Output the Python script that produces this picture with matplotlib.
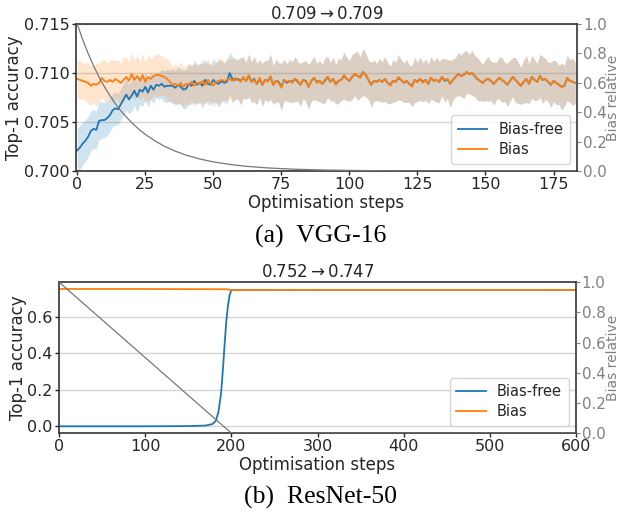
import numpy as np
import matplotlib
matplotlib.use("Agg")
import matplotlib.pyplot as plt

# ---------------- data: (a) VGG-16 ----------------
vgg_bias = [
    0.7094, 0.7093, 0.7092, 0.7091, 0.7090, 0.7087, 0.7089, 0.7088, 0.7090, 0.7095,
    0.7092, 0.7091, 0.7093, 0.7091, 0.7094, 0.7092, 0.7090, 0.7093, 0.7096, 0.7092,
    0.7099, 0.7093, 0.7097, 0.7092, 0.7098, 0.7091, 0.7096, 0.7094, 0.7097, 0.7098,
    0.7098, 0.7097, 0.7096, 0.7094, 0.7091, 0.7088, 0.7089, 0.7087, 0.7090, 0.7086,
    0.7089, 0.7088, 0.7091, 0.7087, 0.7090, 0.7089, 0.7092, 0.7088, 0.7093, 0.7090,
    0.7087, 0.7091, 0.7092, 0.7093, 0.7092, 0.7093, 0.7094, 0.7092, 0.7095, 0.7093,
    0.7091, 0.7096, 0.7092, 0.7098, 0.7091, 0.7093, 0.7089, 0.7095, 0.7088, 0.7093,
    0.7091, 0.7097, 0.7088, 0.7092, 0.7090, 0.7085, 0.7093, 0.7091, 0.7092, 0.7090,
    0.7094, 0.7092, 0.7088, 0.7093, 0.7091, 0.7086, 0.7092, 0.7095, 0.7090, 0.7092,
    0.7089, 0.7093, 0.7096, 0.7091, 0.7094, 0.7088, 0.7092, 0.7093, 0.7098, 0.7094,
    0.7092, 0.7096, 0.7099, 0.7097, 0.7095, 0.7101, 0.7098, 0.7093, 0.7088, 0.7092,
    0.7091, 0.7093, 0.7091, 0.7094, 0.7090, 0.7087, 0.7092, 0.7091, 0.7096, 0.7093,
    0.7090, 0.7092, 0.7089, 0.7086, 0.7093, 0.7091, 0.7094, 0.7090, 0.7093, 0.7089,
    0.7095, 0.7092, 0.7093, 0.7091, 0.7096, 0.7093, 0.7094, 0.7089, 0.7093, 0.7096,
    0.7099, 0.7097, 0.7098, 0.7101, 0.7099, 0.7100, 0.7097, 0.7094, 0.7092, 0.7090,
    0.7093, 0.7094, 0.7092, 0.7089, 0.7092, 0.7095, 0.7093, 0.7091, 0.7088, 0.7092,
    0.7096, 0.7093, 0.7090, 0.7087, 0.7091, 0.7094, 0.7089, 0.7096, 0.7093, 0.7091,
    0.7097, 0.7093, 0.7094, 0.7091, 0.7088, 0.7092, 0.7090, 0.7088, 0.7086, 0.7087,
    0.7095, 0.7092, 0.7091, 0.7090,
]
vgg_biasfree = [
    0.7021, 0.7024, 0.7028, 0.7031, 0.7035, 0.7041, 0.7043, 0.7042, 0.7051, 0.7052,
    0.7052, 0.7054, 0.7057, 0.7062, 0.7064, 0.7063, 0.7068, 0.7073, 0.7078, 0.7073,
    0.7077, 0.7082, 0.7076, 0.7083, 0.7081, 0.7086, 0.7080, 0.7087, 0.7083, 0.7088,
    0.7087, 0.7089, 0.7086, 0.7087, 0.7087, 0.7087, 0.7085, 0.7088, 0.7086, 0.7083,
    0.7084, 0.7089, 0.7087, 0.7092, 0.7088, 0.7090, 0.7087, 0.7093, 0.7089, 0.7088,
    0.7093, 0.7090, 0.7089, 0.7092, 0.7090, 0.7091, 0.7100, 0.7094, 0.7093, 0.7094,
    0.7092, 0.7095, 0.7092, 0.7097, 0.7091, 0.7094, 0.7089, 0.7094, 0.7088, 0.7093,
    0.7092, 0.7096, 0.7088, 0.7092, 0.7091, 0.7086, 0.7093, 0.7090, 0.7092, 0.7091,
    0.7094, 0.7091, 0.7088, 0.7093, 0.7092, 0.7086, 0.7092, 0.7095, 0.7091, 0.7092,
    0.7089, 0.7092, 0.7096, 0.7091, 0.7094, 0.7089, 0.7092, 0.7093, 0.7097, 0.7094,
    0.7092, 0.7096, 0.7099, 0.7097, 0.7096, 0.7101, 0.7098, 0.7093, 0.7088, 0.7092,
    0.7091, 0.7093, 0.7091, 0.7094, 0.7090, 0.7088, 0.7092, 0.7091, 0.7095, 0.7093,
    0.7090, 0.7092, 0.7089, 0.7087, 0.7093, 0.7091, 0.7094, 0.7091, 0.7093, 0.7089,
    0.7095, 0.7092, 0.7093, 0.7091, 0.7096, 0.7092, 0.7094, 0.7089, 0.7093, 0.7096,
    0.7099, 0.7097, 0.7098, 0.7101, 0.7099, 0.7100, 0.7097, 0.7094, 0.7092, 0.7090,
    0.7093, 0.7094, 0.7092, 0.7089, 0.7092, 0.7095, 0.7093, 0.7091, 0.7088, 0.7092,
    0.7096, 0.7093, 0.7090, 0.7087, 0.7091, 0.7094, 0.7089, 0.7096, 0.7093, 0.7091,
    0.7097, 0.7093, 0.7094, 0.7091, 0.7088, 0.7092, 0.7090, 0.7088, 0.7086, 0.7087,
    0.7095, 0.7092, 0.7091, 0.7090,
]
vgg_bias_sd = [
    .0019, .0020, .0018, .0019, .0021, .0020, .0019, .0022, .0020, .0019,
    .0021, .0019, .0020, .0022, .0019, .0021, .0020, .0023, .0020, .0019,
    .0022, .0020, .0021, .0019, .0022, .0020, .0023, .0021, .0020, .0022,
    .0021, .0020, .0019, .0021, .0020, .0018, .0021, .0019, .0022, .0020,
    .0019, .0021, .0018, .0022, .0020, .0019, .0023, .0020, .0021, .0019,
    .0022, .0020, .0024, .0021, .0019, .0022, .0020, .0023, .0021, .0020,
    .0024, .0021, .0019, .0022, .0020, .0023, .0021, .0019, .0022, .0020,
    .0021, .0023, .0019, .0022, .0020, .0024, .0021, .0019, .0022, .0020,
    .0023, .0020, .0022, .0019, .0021, .0023, .0020, .0022, .0019, .0021,
    .0020, .0023, .0021, .0019, .0022, .0020, .0023, .0021, .0024, .0022,
    .0020, .0023, .0022, .0025, .0021, .0024, .0022, .0020, .0023, .0021,
    .0019, .0022, .0020, .0023, .0021, .0019, .0022, .0020, .0023, .0021,
    .0020, .0022, .0019, .0021, .0023, .0020, .0022, .0019, .0021, .0020,
    .0022, .0020, .0023, .0021, .0019, .0022, .0020, .0024, .0021, .0020,
    .0022, .0021, .0024, .0022, .0020, .0023, .0021, .0022, .0020, .0019,
    .0021, .0023, .0020, .0022, .0019, .0021, .0023, .0020, .0022, .0021,
    .0020, .0023, .0021, .0019, .0022, .0024, .0020, .0022, .0021, .0019,
    .0022, .0024, .0021, .0020, .0023, .0021, .0022, .0020, .0024, .0021,
    .0023, .0022, .0024, .0021,
]
vgg_biasfree_sd = [
    .0023, .0022, .0022, .0021, .0021, .0020, .0020, .0019, .0019, .0019,
    .0018, .0018, .0017, .0017, .0017, .0016, .0016, .0016, .0016, .0015,
    .0016, .0015, .0016, .0015, .0015, .0014, .0015, .0014, .0014, .0013,
    .0014, .0015, .0016, .0017, .0016, .0018, .0017, .0019, .0018, .0020,
    .0020, .0021, .0019, .0022, .0020, .0020, .0023, .0021, .0021, .0020,
    .0022, .0021, .0024, .0021, .0020, .0022, .0021, .0023, .0021, .0020,
    .0024, .0021, .0019, .0022, .0021, .0023, .0021, .0019, .0022, .0020,
    .0021, .0023, .0020, .0022, .0020, .0024, .0021, .0019, .0022, .0021,
    .0023, .0020, .0022, .0019, .0021, .0023, .0021, .0022, .0019, .0021,
    .0020, .0023, .0021, .0020, .0022, .0020, .0023, .0021, .0024, .0022,
    .0021, .0023, .0022, .0025, .0021, .0024, .0022, .0020, .0023, .0021,
    .0019, .0022, .0021, .0023, .0021, .0019, .0022, .0020, .0023, .0021,
    .0020, .0022, .0019, .0021, .0023, .0020, .0022, .0020, .0021, .0020,
    .0022, .0020, .0023, .0021, .0019, .0022, .0020, .0024, .0021, .0020,
    .0022, .0021, .0024, .0022, .0020, .0023, .0021, .0022, .0020, .0019,
    .0021, .0023, .0020, .0022, .0019, .0021, .0023, .0020, .0022, .0021,
    .0020, .0023, .0021, .0019, .0022, .0024, .0020, .0022, .0021, .0019,
    .0022, .0024, .0021, .0020, .0023, .0021, .0022, .0020, .0024, .0021,
    .0023, .0022, .0024, .0021,
]
vgg_rel_steps = [0, 2, 4, 6, 8, 10, 12, 14, 16, 18, 20, 23, 26, 29, 32, 36, 40, 45,
                 50, 56, 62, 70, 80, 90, 100, 120, 140, 183]
vgg_rel = [1.0, 0.895, 0.80, 0.715, 0.64, 0.573, 0.513, 0.459, 0.41, 0.368, 0.329,
           0.278, 0.236, 0.20, 0.169, 0.135, 0.108, 0.082, 0.062, 0.045, 0.032,
           0.021, 0.012, 0.007, 0.004, 0.001, 0.0, 0.0]
vgg_title = "0.709$\\rightarrow$0.709"

# ---------------- data: (b) ResNet-50 ----------------
res_bias_steps = [0, 100, 195, 200, 210, 300, 600]
res_bias = [0.752, 0.7518, 0.7505, 0.745, 0.7465, 0.747, 0.747]
res_free_steps = [0, 100, 150, 170, 178, 182, 185, 188, 190, 192, 194, 196, 198, 200, 210, 600]
res_free = [0.0, 0.0, 0.001, 0.004, 0.012, 0.03, 0.08, 0.18, 0.30, 0.44, 0.57, 0.66,
            0.72, 0.745, 0.7465, 0.747]
res_rel_steps = [0, 200, 600]
res_rel = [1.0, 0.0, 0.0]
res_title = "0.752$\\rightarrow$0.747"

captions = ["(a)  VGG-16", "(b)  ResNet-50"]
labels = ["Bias-free", "Bias"]

# ---------------- style ----------------
plt.rcParams['font.family'] = ['DejaVu Sans']
plt.rcParams['mathtext.fontset'] = 'dejavusans'
DARK = '#262626'
GREY = '#808080'
BLUE = '#1f77b4'
ORANGE = '#ff7f0e'
FT = 11.5   # tick labels
FL = 12     # axis labels / titles
FLEG = 10.5

fig = plt.figure(figsize=(6.22, 5.12), dpi=100)


def style(ax, ax2):
    for s in ax.spines.values():
        s.set_color('#333333')
        s.set_linewidth(1.2)
    ax.tick_params(axis='both', colors=DARK, labelsize=FT, length=3, width=1,
                   pad=1.5, labelcolor=DARK)
    ax.yaxis.grid(True, color='#d5d5d5', lw=1)
    ax.set_axisbelow(True)
    ax2.set_ylim(0, 1)
    ax2.set_yticks([0, 0.2, 0.4, 0.6, 0.8, 1.0])
    ax2.tick_params(axis='y', colors=GREY, labelcolor=GREY, labelsize=10.8, length=3,
                    pad=1.2)
    ax2.set_ylabel("Bias relative", color=GREY, fontsize=10)
    ax2.yaxis.set_label_coords(1.058, 0.5)
    for s in ax2.spines.values():
        s.set_visible(False)
    ax.set_xlabel("Optimisation steps", color=DARK, fontsize=FL, labelpad=1)
    ax.set_ylabel("Top-1 accuracy", color=DARK, fontsize=FL, labelpad=0.5)


def add_legend(axb, handles):
    leg = axb.legend(handles, labels, loc='lower right', fontsize=FLEG, frameon=True,
                     fancybox=True, handlelength=2.05, borderpad=0.45,
                     labelspacing=0.35, handletextpad=0.75)
    leg.get_frame().set_edgecolor('#cccccc')
    for t in leg.get_texts():
        t.set_color(DARK)


# ---- top panel ----
ax1 = fig.add_axes([0.122, 0.666, 0.806, 0.287])
steps = np.arange(len(vgg_bias))
bf = np.array(vgg_biasfree); bfs = np.array(vgg_biasfree_sd)
bi = np.array(vgg_bias); bis = np.array(vgg_bias_sd)
ax1.fill_between(steps, bf - bfs, bf + bfs, color=BLUE, alpha=0.2, lw=0)
ax1.fill_between(steps, bi - bis, bi + bis, color=ORANGE, alpha=0.2, lw=0)
l1, = ax1.plot(steps, bf, color=BLUE, lw=1.3, label=labels[0])
l2, = ax1.plot(steps, bi, color=ORANGE, lw=1.3, label=labels[1])
ax1.set_ylim(0.700, 0.715)
ax1.set_yticks([0.700, 0.705, 0.710, 0.715])
ax1.set_yticklabels(["0.700", "0.705", "0.710", "0.715"])
ax1.set_xlim(-0.5, 183.7)
ax1.set_xticks([0, 25, 50, 75, 100, 125, 150, 175])
ax1.set_title(vgg_title, fontsize=FL, color=DARK, pad=4)
ax1b = ax1.twinx()
ax1b.plot(vgg_rel_steps, vgg_rel, color='#777777', lw=0.9)
style(ax1, ax1b)
add_legend(ax1b, [l1, l2])

# ---- bottom panel ----
ax3 = fig.add_axes([0.095, 0.154, 0.831, 0.295])
l3, = ax3.plot(res_free_steps, res_free, color=BLUE, lw=1.3, label=labels[0])
l4, = ax3.plot(res_bias_steps, res_bias, color=ORANGE, lw=1.3, label=labels[1])
ax3.set_xlim(0, 600)
ax3.set_xticks([0, 100, 200, 300, 400, 500, 600])
ax3.set_yticks([0.0, 0.2, 0.4, 0.6])
ax3.set_title(res_title, fontsize=FL, color=DARK, pad=4)
ax3b = ax3.twinx()
ax3b.plot(res_rel_steps, res_rel, color='#777777', lw=0.9)
style(ax3, ax3b)
add_legend(ax3b, [l3, l4])

# captions
fig.text(0.515, 0.539, captions[0], ha='center', va='center', fontsize=18.5,
         family='Liberation Serif', color='black')
fig.text(0.515, 0.029, captions[1], ha='center', va='center', fontsize=18.5,
         family='Liberation Serif', color='black')

fig.savefig("out.png", dpi=100)
